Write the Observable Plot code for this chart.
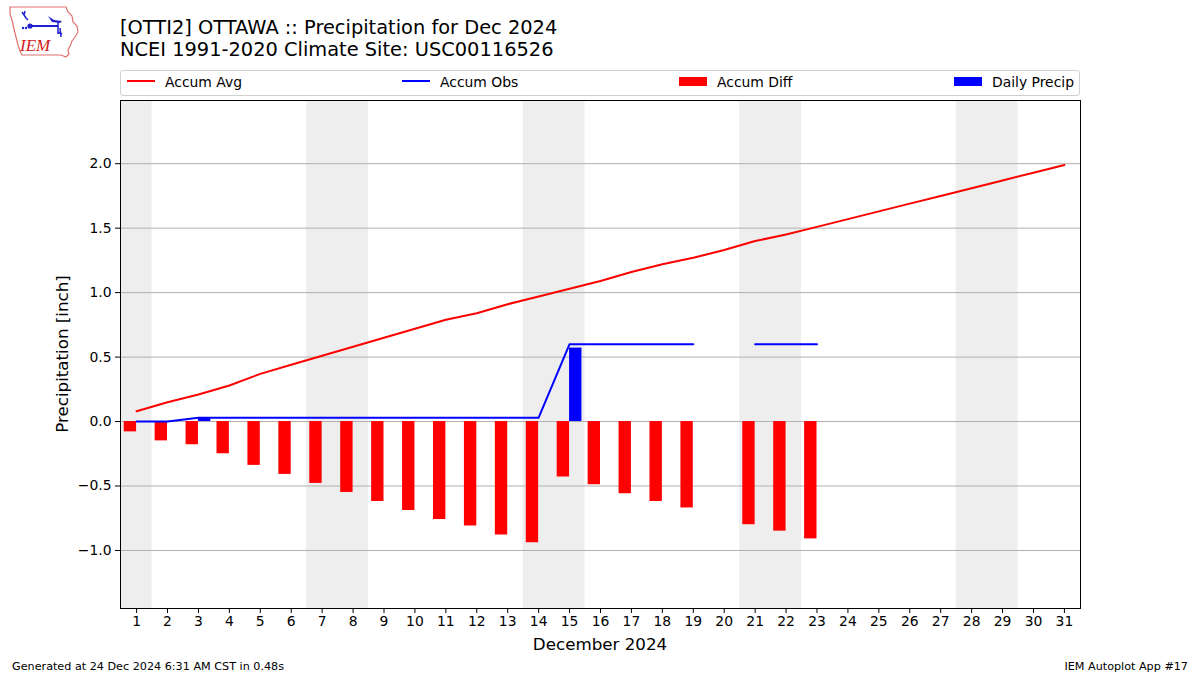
<!DOCTYPE html>
<html>
<head>
<meta charset="utf-8">
<script src="https://cdn.jsdelivr.net/npm/d3@7"></script>
<script src="https://cdn.jsdelivr.net/npm/@observablehq/plot@0.6"></script>
<style>
  html, body { margin: 0; padding: 0; background: #fff; }
  #wrap { position: relative; width: 1200px; height: 675px; overflow: hidden; font-family: "DejaVu Sans", sans-serif; color: #000; }
  .abs { position: absolute; white-space: nowrap; }
  #title { left: 120px; top: 17px; font-size: 19.4px; line-height: 22px; }
  #legend { left: 120px; top: 70px; width: 958px; height: 24px; border: 1px solid #d0d0d0; border-radius: 3px; font-size: 13.9px; }
  .lh { position: absolute; top: 9px; width: 28px; height: 2px; }
  .bh { position: absolute; top: 6px; width: 28px; height: 9px; }
  .lt { position: absolute; top: 3px; }
  #chart { left: 0; top: 0; }
  #xlabel { left: 0; width: 1200px; text-align: center; top: 634px; font-size: 16.7px; }
  #ylabel { left: 62px; top: 354px; font-size: 16.7px; transform: translate(-50%, -50%) rotate(-90deg); }
  .foot { top: 660px; font-size: 11.2px; }
</style>
</head>
<body>
<div id="wrap">
  <svg class="abs" style="left:6px;top:4px" width="76" height="56" viewBox="0 0 76 56">
    <path d="M4,3 L60,3 L62,8 L66,12 L67,18 L71,22 L72,28 L69,33 L66,37 L64,42 L62,46 L63,50 L60,53 L55,51 L16,51 L14,47 L12,41 L10,33 L8,25 L6,16 L4,10 Z" fill="none" stroke="#e07070" stroke-width="1.2"/>
    <path d="M16,8 L20,14 L22,16 M19,7 L18,11" stroke="#2020d0" stroke-width="1.5" fill="none"/>
    <line x1="24" y1="22" x2="52" y2="22" stroke="#2020d0" stroke-width="2"/>
    <circle cx="24" cy="22" r="2.6" fill="#2020d0"/>
    <path d="M42,12 L48,16 L56,17 L54,19 L46,18 Z" fill="#2020d0"/>
    <path d="M52,18 L52,30 M52,28 L56,30 M54,24 L55,33" stroke="#2020d0" stroke-width="1.5" fill="none"/>
    <circle cx="17" cy="24" r="1.2" fill="#2020d0"/>
    <circle cx="20" cy="24" r="1.2" fill="#2020d0"/>
    <text x="14" y="47" font-family="Liberation Serif, serif" font-style="italic" font-size="17" fill="#d02020">IEM</text>
  </svg>
  <div id="title" class="abs">[OTTI2] OTTAWA :: Precipitation for Dec 2024<br>NCEI 1991-2020 Climate Site: USC00116526</div>
  <div id="legend" class="abs">
    <div class="lh" style="left:6px;background:#ff0000"></div><div class="lt" style="left:44px">Accum Avg</div>
    <div class="lh" style="left:281px;background:#0000ff"></div><div class="lt" style="left:319px">Accum Obs</div>
    <div class="bh" style="left:558px;background:#ff0000"></div><div class="lt" style="left:596px">Accum Diff</div>
    <div class="bh" style="left:833px;background:#0000ff"></div><div class="lt" style="left:871px">Daily Precip</div>
  </div>
  <div id="chart" class="abs"></div>
  <div id="xlabel" class="abs">December 2024</div>
  <div id="ylabel" class="abs">Precipitation [inch]</div>
  <div class="abs foot" style="left:12px">Generated at 24 Dec 2024 6:31 AM CST in 0.48s</div>
  <div class="abs foot" style="right:12px">IEM Autoplot App #17</div>
</div>
<script>
// ---- data ----
const days = [1,2,3,4,5,6,7,8,9,10,11,12,13,14,15,16,17,18,19,20,21,22,23,24,25,26,27,28,29,30,31];
const accumAvg = [0.08,0.15,0.21,0.28,0.37,0.44,0.51,0.58,0.65,0.72,0.79,0.84,0.91,0.97,1.03,1.09,1.16,1.22,1.27,1.33,1.40,1.45,1.51,1.57,1.63,1.69,1.75,1.81,1.87,1.93,1.99];
const accumObs = [0,0,0.03,0.03,0.03,0.03,0.03,0.03,0.03,0.03,0.03,0.03,0.03,0.03,0.60,0.60,0.60,0.60,0.60,null,0.60,0.60,0.60,null,null,null,null,null,null,null,null];
const accumDiff = [-0.08,-0.15,-0.18,-0.25,-0.34,-0.41,-0.48,-0.55,-0.62,-0.69,-0.76,-0.81,-0.88,-0.94,-0.43,-0.49,-0.56,-0.62,-0.67,null,-0.80,-0.85,-0.91,null,null,null,null,null,null,null,null];
const dailyPrecip = [0,0,0.03,0,0,0,0,0,0,0,0,0,0,0,0.57,0,0,0,0,null,0,0,0,null,null,null,null,null,null,null,null];
const weekendStart = [1,7,14,21,28];
const weekendEnd = [1,8,15,22,29];
const yTicks = [-1.0,-0.5,0.0,0.5,1.0,1.5,2.0];

const rows = days.map((d, i) => ({day: d, avg: accumAvg[i], obs: accumObs[i], diff: accumDiff[i], precip: dailyPrecip[i]}));
const weekends = weekendStart.map((s, i) => ({start: s, end: weekendEnd[i]}));
const barW = 0.4;
const fmt = v => (v < 0 ? "\u2212" : "") + Math.abs(v).toFixed(1);

const chart = Plot.plot({
  width: 1200,
  height: 675,
  marginLeft: 120,
  marginRight: 120,
  marginTop: 100,
  marginBottom: 67,
  style: {fontFamily: "DejaVu Sans, sans-serif", fontSize: "13.9px", color: "#000", background: "transparent"},
  x: {type: "linear", domain: [0.48, 31.52]},
  y: {type: "linear", domain: [-1.45, 2.49]},
  marks: [
    Plot.rect(weekends, {x1: w => w.start - 0.5, x2: w => w.end + 0.5, y1: -1.45, y2: 2.49, fill: "#eeeeee"}),
    Plot.ruleY(yTicks, {stroke: "#b0b0b0", strokeWidth: 1}),
    Plot.rect(rows.filter(r => r.diff != null), {x1: r => r.day - barW, x2: r => r.day, y1: 0, y2: "diff", fill: "#ff0000", inset: 0}),
    Plot.rect(rows.filter(r => r.precip != null && r.precip > 0), {x1: r => r.day, x2: r => r.day + barW, y1: 0, y2: "precip", fill: "#0000ff", inset: 0}),
    Plot.line(rows, {x: "day", y: "avg", stroke: "#ff0000", strokeWidth: 2}),
    Plot.line(rows.filter(r => r.day <= 23), {x: "day", y: r => r.obs == null ? NaN : r.obs, stroke: "#0000ff", strokeWidth: 2}),
    Plot.axisX({ticks: days, tickFormat: d => String(d), tickSize: 5, tickPadding: 3, label: null, fontSize: "13.9px"}),
    Plot.axisY({ticks: yTicks, tickFormat: fmt, tickSize: 5, tickPadding: 4, label: null, fontSize: "13.9px"}),
    Plot.frame({stroke: "#000", strokeWidth: 1})
  ]
});
document.getElementById("chart").appendChild(chart);
</script>
</body>
</html>
